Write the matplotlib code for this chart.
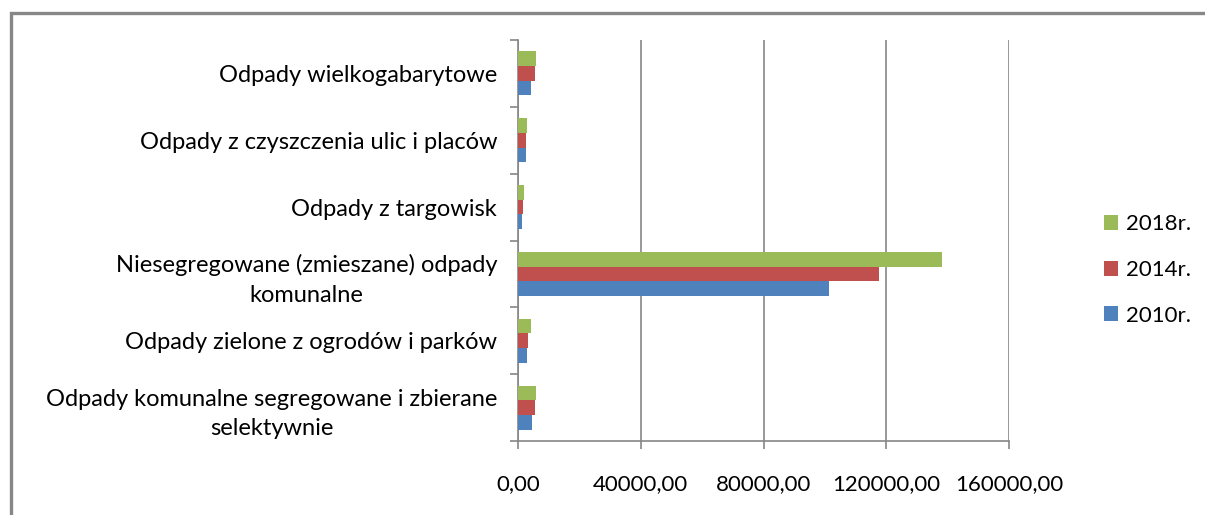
import matplotlib.pyplot as plt
import numpy as np
from matplotlib.patches import Rectangle
from matplotlib.ticker import FuncFormatter

plt.rcParams['font.family'] = ['Lato', 'DejaVu Sans']

# categories from bottom to top
categories = [
  'Odpady komunalne segregowane i zbierane\nselektywnie',
  'Odpady zielone z ogrodów i parków',
  'Niesegregowane (zmieszane) odpady\nkomunalne',
  'Odpady z targowisk',
  'Odpady z czyszczenia ulic i placów',
  'Odpady wielkogabarytowe',
]
years = ['2010r.', '2014r.', '2018r.']
values_2010 = [4470, 2840, 101400, 1200, 2500, 4140]
values_2014 = [5450, 3160, 117800, 1530, 2500, 5450]
values_2018 = [5770, 4140, 138100, 1850, 2840, 5970]
colors = ['#4f81bd', '#c0504d', '#9bbb59']

fig = plt.figure(figsize=(12.05, 5.15), dpi=100)
ax = fig.add_axes([518 / 1205, 1 - 441 / 515, 491 / 1205, 401 / 515])

y = np.arange(len(categories))
h = 0.22
for i, (vals, lab) in enumerate(zip([values_2010, values_2014, values_2018], years)):
  ax.barh(y + (i - 1) * h, vals, height=h, color=colors[i], label=lab, zorder=3)

ax.set_xlim(0, 160000)
ax.set_ylim(-0.5, len(categories) - 0.5)
ax.set_xticks(np.arange(0, 160001, 40000))
ax.xaxis.set_major_formatter(FuncFormatter(lambda v, p: '%d,00' % v))
ax.grid(axis='x', color='#868686', linewidth=1.2, zorder=0)

# y ticks on category boundaries, labels in the middle
ax.set_yticks(np.arange(-0.5, len(categories), 1.0))
ax.set_yticklabels([])
ax.set_yticks(y, minor=True)
ax.set_yticklabels(categories, minor=True, multialignment='center')
for t in ax.get_yticklabels(minor=True):
  t.set_linespacing(1.5)
ax.tick_params(axis='y', which='minor', length=0, pad=15, labelsize=17)
ax.tick_params(axis='y', which='major', length=6, width=1.2, color='#868686')
ax.tick_params(axis='x', length=6, width=1.2, color='#868686', pad=18, labelsize=16)

for s in ['top', 'right']:
  ax.spines[s].set_visible(False)
for s in ['left', 'bottom']:
  ax.spines[s].set_color('#868686')
  ax.spines[s].set_linewidth(1.2)

handles, labels = ax.get_legend_handles_labels()
ax.legend(handles[::-1], labels[::-1], loc='center left', bbox_to_anchor=((1104 - 518) / 491, (441 - 270) / 401),
  frameon=False, fontsize=16, handlelength=0.65, handleheight=0.65,
  handletextpad=0.35, labelspacing=1.15, borderpad=0, borderaxespad=0)

# outer chart border
fig.patches.append(Rectangle((10.5 / 1205, -0.1), 1.2, 1 - 13 / 515 + 0.1,
  transform=fig.transFigure, fill=False, edgecolor='#878787', linewidth=2.4))

fig.savefig('out.png', dpi=100)
